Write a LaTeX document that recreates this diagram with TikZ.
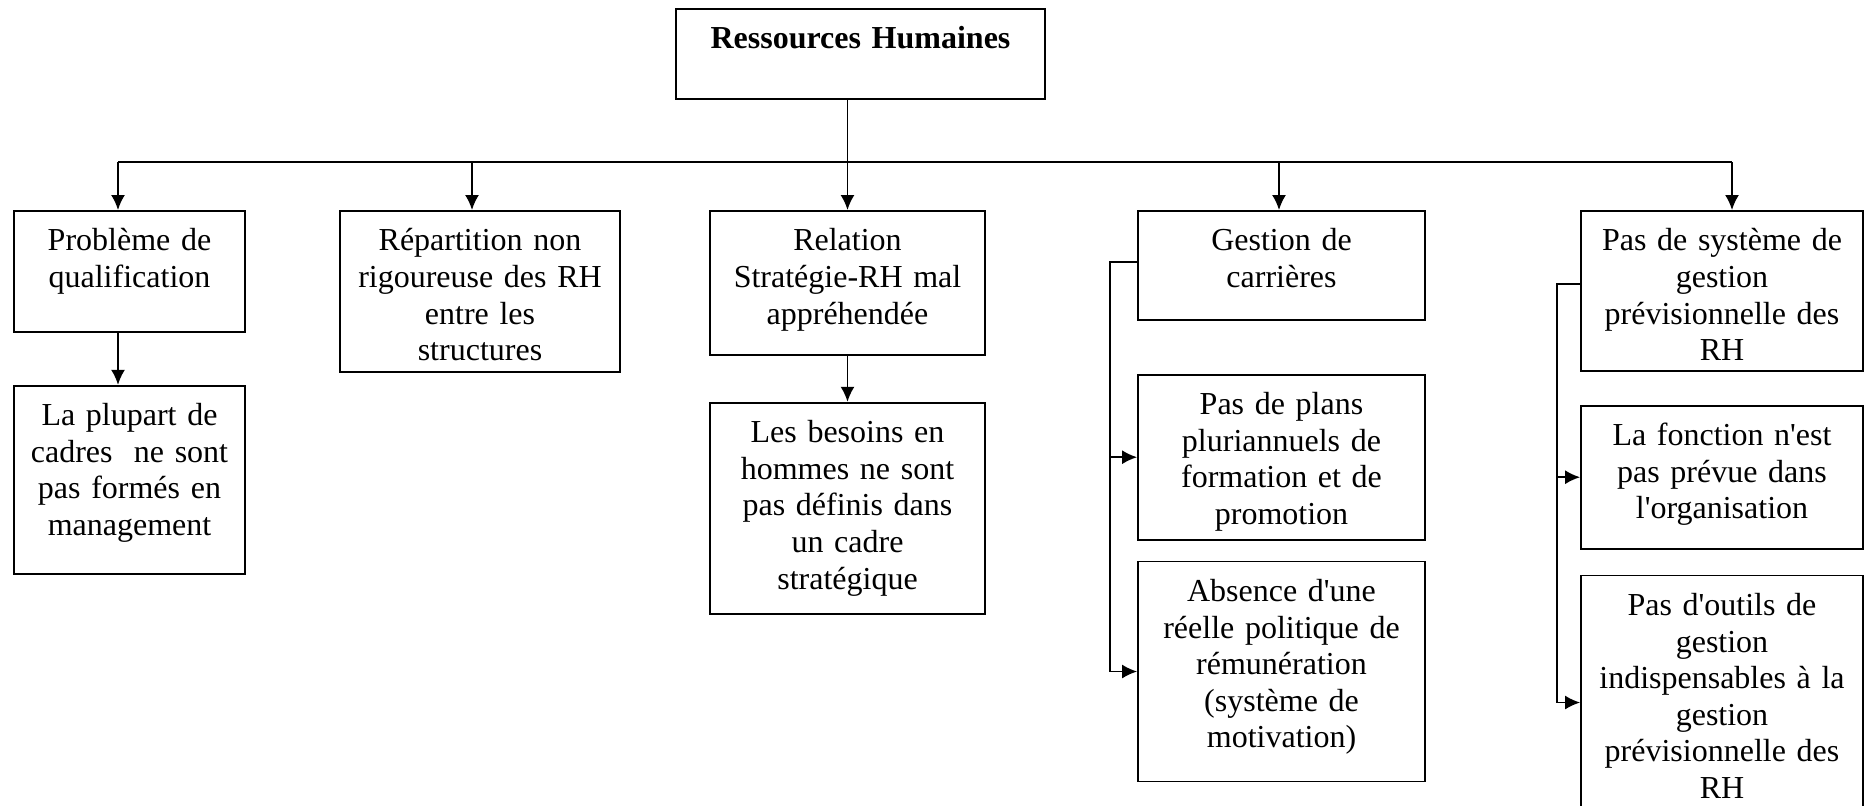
\documentclass[tikz,border=0pt]{standalone}
\usepackage{fontspec}
\setmainfont{Liberation Serif}
\usetikzlibrary{positioning,arrows.meta}
\tikzset{
  rh_box/.style 2 args = {draw, line width=0.9pt, anchor=north, align=center,
    inner xsep=0pt, inner ysep=0pt, text width=#1, text height=20pt,
    text depth=#2, font=\fontsize{16pt}{18.3pt}\selectfont},
  rh_link/.style = {line width=0.9pt}
}

\begin{document}
\begin{tikzpicture}[>={Latex[length=7.5pt,width=7pt]}]
\useasboundingbox (0,0) rectangle (934.5pt,-402.5pt);

% top of the chart
\node [rh_box={184.5pt}{25pt}] (root) at (430.25pt,-4pt) {\textbf{Ressources Humaines}};

% first row
\node [rh_box={115.5pt}{40.5pt}] (qual) at (64.75pt,-105pt) {Problème de\\qualification};
\node [rh_box={140pt}{60.5pt}] (repart) at (240pt,-105pt) {Répartition non\\rigoureuse des RH\\entre les\\structures};
\node [rh_box={137.5pt}{52pt}] (rel) at (423.75pt,-105pt) {Relation\\Stratégie-RH mal\\appréhendée};
\node [rh_box={143.5pt}{34.5pt}] (gest) at (640.75pt,-105pt) {Gestion de\\carrières};
\node [rh_box={141pt}{60pt}] (syst) at (861pt,-105pt) {Pas de système de\\gestion\\prévisionnelle des\\RH};

% second row
\node [rh_box={115.5pt}{74pt}, below=26pt of qual] (plupart) {La plupart de\\cadres~ ne sont\\pas formés en\\management};
\node [rh_box={137.5pt}{85.5pt}, below=23pt of rel] (besoins) {Les besoins en\\hommes ne sont\\pas définis dans\\un cadre\\stratégique};
\node [rh_box={143.5pt}{62.5pt}, below=26.5pt of gest] (plans) {Pas de plans\\pluriannuels de\\formation et de\\promotion};
\node [rh_box={143.5pt}{90pt}, below=10pt of plans] (absence) {Absence d\textquotesingle une\\réelle politique de\\rémunération\\(système de\\motivation)};
\node [rh_box={141pt}{51.5pt}, below=16.5pt of syst] (fonction) {La fonction n\textquotesingle est\\pas prévue dans\\l\textquotesingle organisation};
\node [rh_box={141pt}{96pt}, below=12.5pt of fonction] (outils) {Pas d\textquotesingle outils de\\gestion\\indispensables à la\\gestion\\prévisionnelle des\\RH};

% bus
\coordinate (bus) at (0,-81pt);
\coordinate (gest_b) at (555pt,0);
\coordinate (syst_b) at (778.5pt,0);
\draw [rh_link] ([xshift=-5.75pt]qual.north |- bus) -- ([xshift=5pt]syst.north |- bus);
\draw [rh_link,->] (root.south -| rel.north) -- (rel.north);
\draw [rh_link,->] ([xshift=-5.75pt]qual.north |- bus) -- ([xshift=-5.75pt]qual.north);
\draw [rh_link,->] ([xshift=-4pt]repart.north |- bus) -- ([xshift=-4pt]repart.north);
\draw [rh_link,->] ([xshift=-1.25pt]gest.north |- bus) -- ([xshift=-1.25pt]gest.north);
\draw [rh_link,->] ([xshift=5pt]syst.north |- bus) -- ([xshift=5pt]syst.north);

% below the first row
\draw [rh_link,->] ([xshift=-5.75pt]qual.south) -- ([xshift=-5.75pt]plupart.north);
\draw [rh_link,->] (rel.south) -- (besoins.north);

% side branches
\draw [rh_link] ([yshift=1.75pt]gest.west) -- ([yshift=1.75pt]gest.west -| gest_b) -- (gest_b |- absence.west);
\draw [rh_link,->] (gest_b |- plans.west) -- (plans.west);
\draw [rh_link,->] (gest_b |- absence.west) -- (absence.west);
\draw [rh_link] ([yshift=3.5pt]syst.west) -- ([yshift=3.5pt]syst.west -| syst_b) -- ([yshift=-5.5pt]syst_b |- outils.west);
\draw [rh_link,->] (syst_b |- fonction.west) -- (fonction.west);
\draw [rh_link,->] ([yshift=-5.5pt]syst_b |- outils.west) -- ([yshift=-5.5pt]outils.west);
\end{tikzpicture}
\end{document}
